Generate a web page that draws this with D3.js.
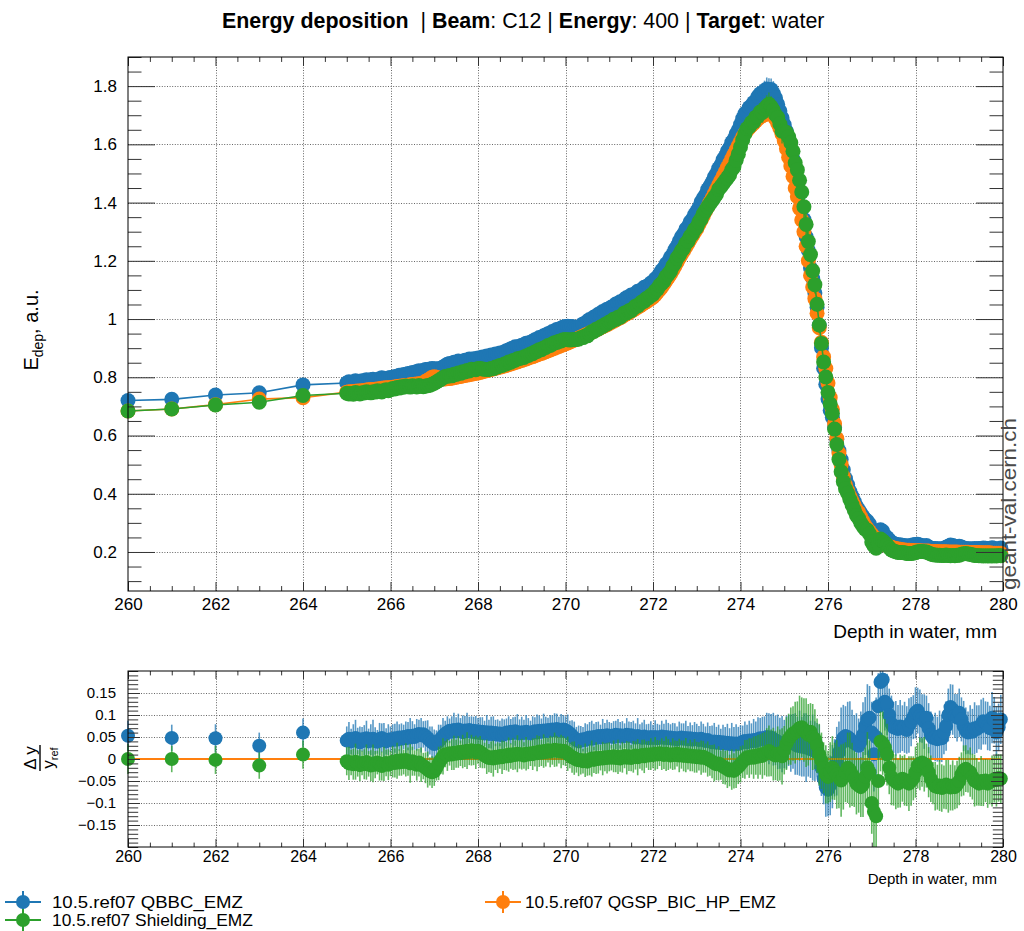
<!DOCTYPE html>
<html>
<head>
<meta charset="utf-8">
<script src="https://cdn.jsdelivr.net/npm/d3@7"></script>
<style>
  body { margin: 0; background: #fff; }
  svg text { font-family: "Liberation Sans", Arial, Helvetica, sans-serif; }
</style>
</head>
<body>
<svg id="chart" width="1024" height="931"></svg>
<script>
// ---- data ----
// coarse points, 1 mm apart
const coarseDepth = [260, 261, 262, 263, 264]
const coarseRef = [0.684, 0.691, 0.706, 0.725, 0.730]          // QGSP_BIC_HP_EMZ (reference)
const coarseQbbcRatio = [0.053, 0.048, 0.047, 0.030, 0.060]
const coarseShieldRatio = [0.000, 0.000, -0.002, -0.015, 0.010]
const coarseErr = [0.034, 0.030, 0.032, 0.030, 0.032]

// fine bins from 265 mm, 0.05 mm wide
const fineStart = 265
const fineStep = 0.05

const fineRef = [
  0.749,0.750,0.750,0.751,0.752,0.753,0.753,0.754,0.755,0.756,0.757,0.758,0.758,0.759,0.760,0.761,0.762,0.763,0.764,0.764,
  0.765,0.766,0.767,0.768,0.769,0.770,0.771,0.772,0.773,0.774,0.775,0.776,0.777,0.778,0.779,0.780,0.786,0.790,0.795,0.800,
  0.802,0.800,0.797,0.794,0.794,0.794,0.796,0.796,0.797,0.799,0.800,0.802,0.803,0.805,0.806,0.808,0.809,0.811,0.812,0.814,
  0.815,0.817,0.819,0.821,0.823,0.825,0.827,0.829,0.831,0.833,0.835,0.837,0.839,0.841,0.844,0.846,0.848,0.851,0.853,0.856,
  0.858,0.861,0.863,0.866,0.869,0.871,0.874,0.877,0.880,0.882,0.885,0.888,0.891,0.894,0.897,0.900,0.903,0.906,0.909,0.912,
  0.915,0.918,0.921,0.925,0.928,0.931,0.934,0.938,0.941,0.945,0.948,0.952,0.955,0.959,0.963,0.966,0.970,0.974,0.977,0.981,
  0.985,0.989,0.993,0.997,1.001,1.005,1.009,1.014,1.018,1.022,1.027,1.031,1.036,1.041,1.045,1.050,1.055,1.060,1.065,1.070,
  1.075,1.083,1.092,1.101,1.110,1.121,1.132,1.143,1.155,1.168,1.181,1.195,1.210,1.222,1.235,1.248,1.260,1.273,1.286,1.298,
  1.310,1.325,1.340,1.355,1.370,1.385,1.400,1.415,1.430,1.445,1.460,1.475,1.490,1.505,1.520,1.535,1.550,1.565,1.580,1.595,
  1.610,1.625,1.638,1.648,1.657,1.665,1.672,1.680,1.688,1.694,1.698,1.702,1.705,1.707,1.705,1.698,1.688,1.672,1.655,1.635,
  1.612,1.585,1.556,1.526,1.490,1.450,1.420,1.380,1.340,1.300,1.250,1.200,1.150,1.110,1.070,1.020,0.970,0.920,0.870,0.830,
  0.780,0.730,0.690,0.640,0.590,0.540,0.500,0.460,0.430,0.410,0.390,0.375,0.360,0.345,0.335,0.320,0.305,0.290,0.280,0.270,
  0.260,0.252,0.245,0.240,0.235,0.230,0.226,0.222,0.219,0.216,0.214,0.212,0.210,0.209,0.208,0.207,0.206,0.206,0.205,0.205,
  0.204,0.204,0.204,0.203,0.203,0.203,0.203,0.202,0.202,0.202,0.202,0.201,0.201,0.201,0.201,0.200,0.200,0.200,0.200,0.200,
  0.199,0.199,0.199,0.199,0.199,0.198,0.198,0.198,0.198,0.198,0.197,0.197,0.197,0.197,0.197,0.196,0.196,0.196,0.196,0.196
]

// (QBBC_EMZ - ref) / ref
const fineQbbcRatio = [
  .042,.046,.040,.044,.048,.041,.038,.045,.043,.047,.040,.044,.046,.041,.039,.045,.048,.043,.040,.044,
  .045,.043,.047,.044,.049,.046,.050,.047,.052,.049,.053,.050,.055,.057,.054,.056,.052,.047,.042,.038,
  .034,.036,.040,.046,.052,.057,.061,.064,.062,.066,.063,.067,.064,.061,.065,.063,.066,.062,.064,.060,
  .063,.059,.062,.058,.061,.057,.060,.056,.059,.055,.058,.054,.057,.060,.058,.062,.059,.063,.060,.058,
  .061,.059,.062,.060,.058,.061,.063,.060,.064,.062,.065,.063,.066,.064,.067,.065,.068,.066,.064,.067,
  .065,.062,.058,.053,.047,.043,.040,.042,.045,.043,.047,.049,.046,.050,.048,.052,.049,.053,.050,.054,
  .051,.053,.050,.055,.052,.054,.051,.053,.055,.052,.054,.051,.049,.052,.050,.048,.051,.049,.047,.050,
  .048,.050,.047,.049,.051,.048,.050,.047,.049,.046,.048,.045,.047,.049,.046,.048,.045,.047,.044,.046,
  .045,.043,.046,.044,.041,.043,.040,.038,.040,.037,.039,.036,.038,.035,.037,.034,.036,.033,.035,.034,
  .036,.039,.041,.038,.042,.040,.043,.041,.045,.047,.044,.048,.050,.046,.049,.045,.042,.039,.036,.034,
  .034,.038,.042,.036,.040,.034,.030,.036,.028,.032,.026,.030,.022,.026,.018,.020,.008,-.020,-.045,-.065,
  -.070,-.060,-.040,-.020,-.005,.015,.035,.048,.052,.050,.046,.040,.036,.034,.030,.040,.055,.075,.090,.094,
  .060,.011,.050,.120,.175,.180,.130,.124,.100,.080,.072,.070,.068,.074,.070,.072,.066,.076,.085,.095,
  .105,.110,.098,.092,.085,.094,.070,.055,.048,.050,.045,.052,.047,.060,.075,.100,.118,.112,.098,.094,
  .105,.090,.075,.064,.060,.066,.062,.070,.068,.072,.078,.086,.082,.075,.070,.094,.088,.060,.072,.090
]

// (Shielding_EMZ - ref) / ref
const fineShieldRatio = [
  -.005,-.010,-.008,-.012,-.006,-.010,-.014,-.009,-.012,-.007,-.011,-.015,-.010,-.013,-.008,-.012,-.016,-.011,-.009,-.013,
  -.010,-.006,-.009,-.004,-.008,-.003,-.007,-.002,-.006,-.010,-.005,-.009,-.013,-.008,-.013,-.016,-.020,-.024,-.028,-.030,
  -.028,-.020,-.010,-.002,.006,.011,.009,.013,.010,.014,.012,.016,.013,.017,.015,.019,.016,.020,.018,.015,
  .019,.016,.012,.008,.005,.002,.004,.001,.005,.003,.007,.004,.008,.006,.010,.007,.011,.009,.012,.010,
  .011,.008,.012,.010,.013,.011,.015,.013,.017,.014,.018,.016,.020,.017,.019,.021,.018,.020,.017,.019,
  .016,.012,.008,.004,.002,-.001,-.003,-.002,-.005,-.003,-.006,-.002,.001,-.002,.002,.000,.003,.001,.004,.002,
  .005,.003,.006,.002,.005,.001,.004,.007,.003,.006,.002,.005,.008,.004,.007,.009,.006,.010,.008,.011,
  .009,.012,.010,.013,.011,.009,.012,.010,.008,.011,.009,.012,.008,.010,.007,.009,.006,.008,.005,.007,
  .004,.006,.003,.005,.002,.000,-.003,-.006,-.009,-.012,-.010,-.014,-.017,-.020,-.023,-.026,-.024,-.027,-.022,-.018,
  -.012,-.006,-.001,.004,.002,.006,.003,.008,.005,.010,.007,.012,.015,.018,.014,.011,.008,.012,.009,.006,
  .020,.035,.045,.052,.058,.060,.065,.070,.072,.066,.060,.055,.062,.050,.045,.030,.010,-.004,-.020,-.035,
  -.041,-.030,-.020,-.028,-.035,-.042,-.049,-.040,-.030,-.020,-.025,-.035,-.045,-.056,-.060,-.064,-.058,-.040,-.019,-.030,
  -.100,-.120,-.130,-.050,.040,.036,.026,.010,-.020,-.041,-.048,-.052,-.056,-.050,-.045,-.048,-.053,-.056,-.050,-.044,
  -.030,-.015,-.011,-.008,-.012,-.015,-.030,-.045,-.055,-.062,-.064,-.060,-.066,-.064,-.058,-.062,-.065,-.060,-.064,-.058,
  -.050,-.035,-.026,-.022,-.028,-.030,-.040,-.049,-.052,-.056,-.050,-.054,-.049,-.056,-.052,-.050,-.046,-.048,-.043,-.045
]

// uncertainty on the ratio
const fineErr = [
  .032,.038,.029,.035,.041,.030,.036,.028,.034,.040,.029,.035,.043,.031,.027,.037,.033,.039,.030,.035,
  .029,.036,.033,.041,.030,.035,.028,.038,.032,.044,.033,.029,.036,.032,.039,.030,.035,.041,.032,.036,
  .033,.029,.038,.032,.041,.030,.036,.028,.035,.039,.032,.036,.029,.038,.033,.042,.030,.035,.032,.038,
  .030,.036,.033,.029,.039,.032,.036,.041,.030,.035,.029,.038,.033,.032,.039,.029,.036,.033,.042,.032,
  .035,.030,.038,.033,.029,.036,.032,.041,.035,.030,.038,.033,.028,.036,.032,.039,.035,.030,.038,.033,
  .032,.039,.029,.035,.038,.030,.036,.033,.028,.038,.032,.035,.041,.030,.036,.033,.029,.038,.032,.035,
  .033,.029,.036,.032,.039,.030,.035,.028,.038,.033,.030,.036,.032,.041,.029,.035,.038,.030,.033,.036,
  .030,.038,.033,.029,.036,.032,.039,.035,.030,.036,.033,.029,.038,.032,.035,.039,.030,.036,.033,.038,
  .035,.032,.039,.036,.033,.040,.035,.038,.042,.036,.039,.033,.040,.038,.043,.036,.046,.040,.044,.039,
  .041,.037,.044,.040,.045,.041,.048,.044,.050,.046,.052,.049,.055,.058,.053,.060,.056,.062,.058,.064,
  .055,.060,.058,.065,.062,.070,.066,.074,.068,.072,.078,.070,.065,.075,.068,.062,.070,.064,.058,.066,
  .060,.068,.072,.065,.078,.070,.082,.075,.068,.080,.085,.072,.064,.070,.062,.068,.074,.066,.080,.072,
  .070,.085,.090,.075,.068,.072,.065,.070,.060,.064,.058,.062,.055,.060,.052,.058,.054,.062,.056,.050,
  .058,.052,.060,.055,.062,.050,.057,.053,.048,.055,.051,.058,.054,.049,.056,.060,.052,.057,.050,.054,
  .055,.050,.057,.053,.048,.056,.052,.059,.054,.050,.057,.053,.049,.055,.051,.058,.053,.060,.054,.056
]

const seriesNames = ['10.5.ref07 QBBC_EMZ', '10.5.ref07 QGSP_BIC_HP_EMZ', '10.5.ref07 Shielding_EMZ']
const seriesColors = ['#1f77b4', '#ff7f0e', '#2ca02c']

const topXTicks = [260, 262, 264, 266, 268, 270, 272, 274, 276, 278, 280]
const topYTicks = [0.2, 0.4, 0.6, 0.8, 1.0, 1.2, 1.4, 1.6, 1.8]
const ratioYTicks = [-0.15, -0.1, -0.05, 0, 0.05, 0.1, 0.15]

// ---- assemble ----
const depth = coarseDepth.concat(fineRef.map((d, i) => +(fineStart + i * fineStep).toFixed(2)))
const ref = coarseRef.concat(fineRef)
const ratioErr = coarseErr.concat(fineErr)
const ratios = [
  coarseQbbcRatio.concat(fineQbbcRatio),
  depth.map(() => 0),
  coarseShieldRatio.concat(fineShieldRatio)
]

// per-histogram error is smaller than the ratio error
const series = ratios.map((r, s) => depth.map((x, i) => {
  let y = ref[i] * (1 + r[i])
  return {x: x, y: y, ey: s == 1 ? 0 : y * ratioErr[i] / 2.5, r: r[i], er: ratioErr[i]}
}))

// ---- layout ----
const topBox = {l: 128, r: 1003, t: 57, b: 591}
const ratioBox = {l: 128, r: 1003, t: 671, b: 847}

const svg = d3.select('#chart')

const x1 = d3.scaleLinear().domain([260, 280]).range([topBox.l, topBox.r])
const y1 = d3.scaleLinear().domain([0.066, 1.9]).range([topBox.b, topBox.t])
const x2 = d3.scaleLinear().domain([260, 280]).range([ratioBox.l, ratioBox.r])
const y2 = d3.scaleLinear().domain([-0.2, 0.2]).range([ratioBox.b, ratioBox.t])

function minorsOf(lo, hi, step, majors) {
  return d3.range(0, Math.round((hi - lo) / step) + 1)
    .map(i => +(lo + i * step).toFixed(4))
    .filter(v => !majors.some(m => Math.abs(m - v) < 1e-6))
}

function grid(g, box, xs, ys, xv, yv) {
  let gg = g.append('g').attr('stroke', '#666').attr('stroke-width', 1).attr('stroke-dasharray', '1,1.6')
  gg.selectAll('.gx').data(xv.filter(v => v > 260 && v < 280)).join('line')
    .attr('x1', d => Math.round(xs(d)) + 0.5).attr('x2', d => Math.round(xs(d)) + 0.5)
    .attr('y1', box.t).attr('y2', box.b)
  gg.selectAll('.gy').data(yv).join('line')
    .attr('y1', d => Math.round(ys(d)) + 0.5).attr('y2', d => Math.round(ys(d)) + 0.5)
    .attr('x1', box.l).attr('x2', box.r)
}

function inwardAxis(g, maker, scale, values, len, pad, fmt, transform, fontSize) {
  let axis = maker(scale).tickValues(values).tickSizeInner(-len).tickSizeOuter(0)
    .tickPadding(pad).tickFormat(fmt || (() => ''))
  let a = g.append('g').attr('transform', transform).call(axis)
  a.select('.domain').remove()
  a.selectAll('line').attr('stroke', '#333')
  a.attr('font-family', null).attr('font-size', fontSize || 17)
  return a
}

function frameAxes(g, box, xs, ys, o) {
  let xMinor = minorsOf(260, 280, o.xMinorStep, o.xMajor)
  let yMinor = minorsOf(o.yLo, o.yHi, o.yMinorStep, o.yMajor)
  let fmtX = d => d3.format('d')(d)
  let fmtY = o.yFmt
  // bottom / top
  inwardAxis(g, d3.axisBottom, xs, o.xMajor, o.xLen, o.xPad, fmtX, `translate(0,${box.b})`, o.xFont)
  inwardAxis(g, d3.axisBottom, xs, xMinor, o.xLen * 0.55, 0, null, `translate(0,${box.b})`)
  inwardAxis(g, d3.axisTop, xs, o.xMajor, o.xLen, 0, null, `translate(0,${box.t})`)
  inwardAxis(g, d3.axisTop, xs, xMinor, o.xLen * 0.55, 0, null, `translate(0,${box.t})`)
  // left / right
  inwardAxis(g, d3.axisLeft, ys, o.yMajor, o.yLen, o.yPad, fmtY, `translate(${box.l},0)`, o.yFont)
  inwardAxis(g, d3.axisLeft, ys, yMinor, o.yLen * o.yMinorFrac, 0, null, `translate(${box.l},0)`)
  inwardAxis(g, d3.axisRight, ys, o.yMajor, o.yLen, 0, null, `translate(${box.r},0)`)
  inwardAxis(g, d3.axisRight, ys, yMinor, o.yLen * o.yMinorFrac, 0, null, `translate(${box.r},0)`)
  g.append('rect').attr('x', box.l).attr('y', box.t).attr('width', box.r - box.l).attr('height', box.b - box.t)
    .attr('fill', 'none').attr('stroke', '#000').attr('stroke-width', 1)
}

// squeeze a text sideways so it spans the given width
function fitWidth(sel, x, y, width) {
  let natural = sel.node().getComputedTextLength()
  sel.attr('transform', `translate(${x},${y}) scale(${width / natural},1)`)
}

// ---- title ----
const title = svg.append('text').attr('font-size', 22).attr('xml:space', 'preserve')
;[['Energy deposition', 1], ['  | ', 0], ['Beam', 1], [': C12 | ', 0], ['Energy', 1], [': 400 | ', 0], ['Target', 1], [': water', 0]]
  .forEach(p => title.append('tspan').attr('font-weight', p[1] ? 'bold' : 'normal').text(p[0]))
fitWidth(title, 222, 28, 603)

// ---- top pad ----
const gTop = svg.append('g')
grid(gTop, topBox, x1, y1, topXTicks, topYTicks)

svg.append('clipPath').attr('id', 'clipTop').append('rect')
  .attr('x', 0).attr('y', topBox.t).attr('width', 1024).attr('height', topBox.b - topBox.t)
svg.append('clipPath').attr('id', 'clipRatio').append('rect')
  .attr('x', 0).attr('y', ratioBox.t).attr('width', 1024).attr('height', ratioBox.b - ratioBox.t)

const line1 = d3.line().x(d => x1(d.x)).y(d => y1(d.y))
const dataTop = gTop.append('g').attr('clip-path', 'url(#clipTop)')
series.forEach((s, k) => {
  let g = dataTop.append('g')
  g.append('path').datum(s).attr('d', line1).attr('fill', 'none')
    .attr('stroke', seriesColors[k]).attr('stroke-width', 1.6)
  g.selectAll('line.err').data(s.filter(d => d.ey > 0)).join('line')
    .attr('x1', d => x1(d.x)).attr('x2', d => x1(d.x))
    .attr('y1', d => y1(d.y - d.ey)).attr('y2', d => y1(d.y + d.ey))
    .attr('stroke', seriesColors[k]).attr('stroke-width', 1.6).attr('opacity', 0.75)
  g.selectAll('circle').data(s).join('circle')
    .attr('cx', d => x1(d.x)).attr('cy', d => y1(d.y)).attr('r', 7.5)
    .attr('fill', seriesColors[k])
})

frameAxes(gTop, topBox, x1, y1, {
  xMajor: topXTicks, xMinorStep: 0.5, xLen: 9, xPad: 7, xFont: 17,
  yMajor: topYTicks, yLo: 0.1, yHi: 1.9, yMinorStep: 0.05, yLen: 27, yMinorFrac: 0.5, yPad: 11, yFont: 17,
  yFmt: d => d3.format('~g')(d)
})

gTop.append('text').attr('x', 997).attr('y', 638).attr('text-anchor', 'end')
  .attr('font-size', 19).text('Depth in water, mm')

const yLab = gTop.append('text').attr('transform', 'translate(38,330) rotate(-90)')
  .attr('text-anchor', 'middle').attr('font-size', 20)
yLab.append('tspan').text('E')
yLab.append('tspan').attr('font-size', 14).attr('dy', 5).text('dep')
yLab.append('tspan').attr('dy', -5).text(', a.u.')

svg.append('text').attr('transform', 'translate(1016,590) rotate(-90)')
  .attr('font-size', 20).attr('fill', '#4a4a4a')
  .attr('textLength', 172).attr('lengthAdjust', 'spacingAndGlyphs')
  .text('geant-val.cern.ch')

// ---- ratio pad ----
const gRat = svg.append('g')
grid(gRat, ratioBox, x2, y2, topXTicks, ratioYTicks)

const dataRat = gRat.append('g').attr('clip-path', 'url(#clipRatio)')
series.forEach((s, k) => {
  let g = dataRat.append('g')
  if (k == 1) {
    g.append('path').datum(s).attr('d', d3.line().x(d => x2(d.x)).y(d => y2(d.r)))
      .attr('fill', 'none').attr('stroke', seriesColors[k]).attr('stroke-width', 2)
    return
  }
  g.selectAll('line.err').data(s).join('line')
    .attr('x1', d => x2(d.x)).attr('x2', d => x2(d.x))
    .attr('y1', d => y2(d.r - d.er)).attr('y2', d => y2(d.r + d.er))
    .attr('stroke', seriesColors[k]).attr('stroke-width', 1.6).attr('opacity', 0.75)
  g.selectAll('circle').data(s).join('circle')
    .attr('cx', d => x2(d.x)).attr('cy', d => y2(d.r)).attr('r', 7)
    .attr('fill', seriesColors[k])
})

frameAxes(gRat, ratioBox, x2, y2, {
  xMajor: topXTicks, xMinorStep: 0.5, xLen: 8, xPad: 4, xFont: 16,
  yMajor: ratioYTicks, yLo: -0.2, yHi: 0.2, yMinorStep: 0.01, yLen: 12, yMinorFrac: 0.85, yPad: 12, yFont: 15,
  yFmt: d => d3.format('~g')(d)
})

gRat.append('text').attr('x', 997).attr('y', 884).attr('text-anchor', 'end')
  .attr('font-size', 15).text('Depth in water, mm')

const frac = gRat.append('g').attr('transform', 'translate(40,758) rotate(-90)').attr('font-size', 17)
frac.append('text').attr('text-anchor', 'middle').attr('y', -4).text('\u0394 y')
frac.append('line').attr('x1', -13).attr('x2', 13).attr('y1', 0).attr('y2', 0).attr('stroke', '#000').attr('stroke-width', 1.4)
const den = frac.append('text').attr('text-anchor', 'middle').attr('y', 14)
den.append('tspan').text('y')
den.append('tspan').attr('font-size', 11).attr('dy', 4).text('ref')

// ---- legend ----
const legendItems = [
  {k: 0, x: 23, y: 902, tx: 52, w: 191},
  {k: 1, x: 503, y: 902, tx: 525, w: 251},
  {k: 2, x: 23, y: 920, tx: 52, w: 201}
]
const leg = svg.append('g')
legendItems.forEach(it => {
  let c = seriesColors[it.k]
  leg.append('line').attr('x1', it.x - 18).attr('x2', it.x + 18).attr('y1', it.y).attr('y2', it.y)
    .attr('stroke', c).attr('stroke-width', 2)
  leg.append('line').attr('x1', it.x).attr('x2', it.x).attr('y1', it.y - 11).attr('y2', it.y + 11)
    .attr('stroke', c).attr('stroke-width', 2)
  leg.append('circle').attr('cx', it.x).attr('cy', it.y).attr('r', 7).attr('fill', c)
  let t = leg.append('text').attr('font-size', 17).text(seriesNames[it.k])
  fitWidth(t, it.tx, it.y + 6, it.w)
})
</script>
</body>
</html>
